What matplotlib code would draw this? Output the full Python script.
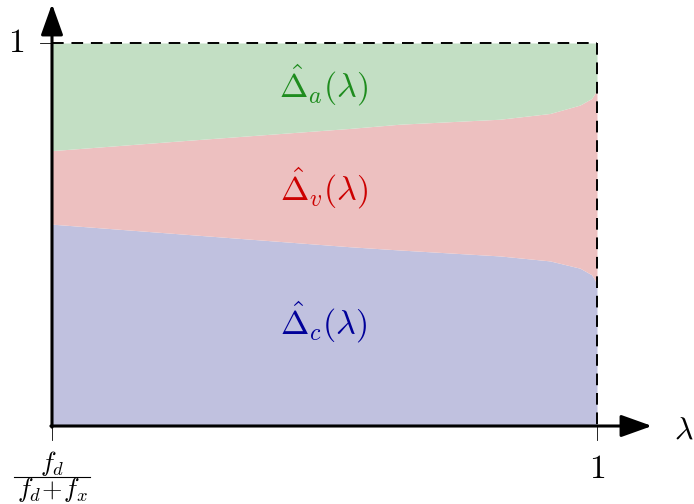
import matplotlib
matplotlib.use("Agg")
import matplotlib.pyplot as plt
import numpy as np

plt.rcParams['mathtext.fontset'] = 'cm'

# lambda, normalised from f_d/(f_d+f_x) (=0) to 1
lam = [0.0, 0.25, 0.547, 0.6385, 0.822, 0.9138, 0.9688, 0.99, 0.9963, 1.0]
# upper boundary of Delta_c (blue)
delta_c_top = [0.527, 0.500, 0.468, 0.4595, 0.444, 0.431, 0.412, 0.395, 0.381, 0.368]
# upper boundary of Delta_v (red)
delta_v_top = [0.719, 0.746, 0.777, 0.788, 0.801, 0.816, 0.838, 0.855, 0.869, 0.8825]
top = [1.0] * len(lam)

labels = [r'$\hat{\Delta}_a(\lambda)$', r'$\hat{\Delta}_v(\lambda)$', r'$\hat{\Delta}_c(\lambda)$']
frac_num = r'$f_d$'
frac_den = r'$f_d\!+\!f_x$'
x_ticklabels = [r'$1$']
y_ticklabels = [r'$1$']

fig = plt.figure(figsize=(6.94, 5.04), dpi=100)
ax = fig.add_axes([0, 0, 1, 1])
W, H = 694, 504
x0p, x1p = 52, 597
y0p, y1p = 426, 43
sx = (x1p - x0p)
sy = (y0p - y1p)
ax.set_xlim(-x0p / sx, (W - x0p) / sx)
ax.set_ylim(-(H - y0p) / sy, y0p / sy)
ax.axis('off')

def px(xp):
    return (xp - x0p) / sx

def py(yp):
    return (y0p - yp) / sy

ax.fill_between(lam, 0, delta_c_top, color='#c0c1df', lw=0, zorder=1)
ax.fill_between(lam, delta_c_top, delta_v_top, color='#edc0c0', lw=0, zorder=1)
ax.fill_between(lam, delta_v_top, top, color='#c3dfc4', lw=0, zorder=1)

# dashed box
ax.plot([0, 1], [1, 1], color='black', lw=1.4, dashes=(6, 4), zorder=3)
ax.plot([1, 1], [1, 0], color='black', lw=1.4, dashes=(6, 4), zorder=3)

# axes with arrows
arrow = dict(arrowstyle='-|>,head_length=1.9,head_width=0.68', color='black', lw=2.2,
             shrinkA=0, shrinkB=0, mutation_scale=10)
ax.annotate('', xy=(px(652), 0), xytext=(-0.002, 0), arrowprops=arrow, zorder=4)
ax.annotate('', xy=(0, py(4)), xytext=(0, -0.003), arrowprops=arrow, zorder=4)

# ticks
ax.plot([0, 0], [0, py(440)], color='black', lw=0.6, zorder=3)
ax.plot([1, 1], [0, py(440)], color='black', lw=0.6, zorder=3)
ax.plot([px(40), 0], [1, 1], color='black', lw=0.6, zorder=3)

# fraction tick label at lambda = f_d/(f_d+f_x)
ax.text(0, py(463), frac_num, fontsize=19, ha='center', va='center')
ax.plot([px(14), px(90)], [py(476.5), py(476.5)], color='black', lw=0.8)
ax.text(0, py(490), frac_den, fontsize=19, ha='center', va='center')

ax.text(1, py(468), x_ticklabels[0], fontsize=24, ha='center', va='center')
ax.text(px(16.5), 1, y_ticklabels[0], fontsize=24, ha='center', va='center')
ax.text(px(684), py(430), r'$\lambda$', fontsize=23, ha='center', va='center')

cx = px(324)
ax.text(cx, py(85), labels[0], fontsize=24.5, color='#1e8c1e', ha='center', va='center', zorder=5)
ax.text(cx, py(188), labels[1], fontsize=24.5, color='#cc0000', ha='center', va='center', zorder=5)
ax.text(cx, py(322), labels[2], fontsize=24.5, color='#000099', ha='center', va='center', zorder=5)

fig.savefig('out.png', dpi=100)
